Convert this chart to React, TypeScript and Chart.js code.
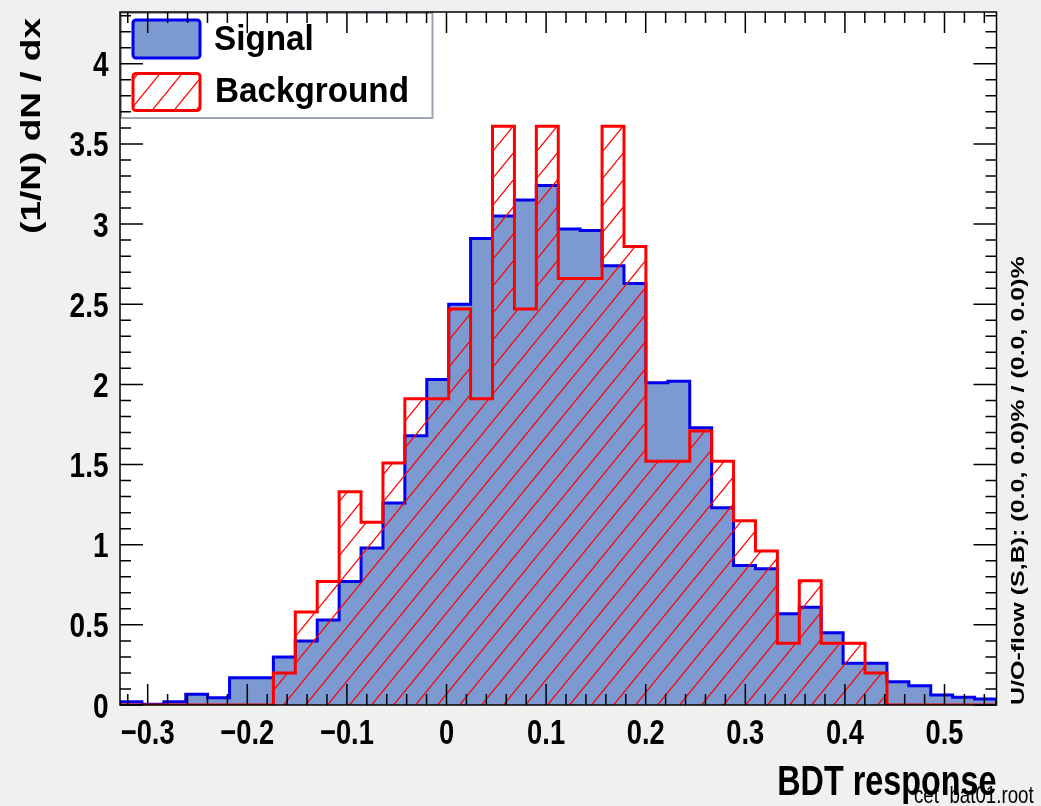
import React, { useEffect, useRef } from 'react';
import { Chart, registerables } from 'chart.js';

Chart.register(...registerables);

// ---- data ----
const X_MIN = -0.3278;
const X_MAX = 0.5522;
const Y_MAX = 4.323;
const X_TICK_STEP = 0.1;
const Y_TICK_STEP = 0.5;

const signalValues = [
  0.02, 0.005, 0.02, 0.067, 0.045, 0.17, 0.17, 0.30, 0.40, 0.53,
  0.77, 0.98, 1.26, 1.68, 2.03, 2.50, 2.91, 3.05, 3.15, 3.24,
  2.97, 2.96, 2.74, 2.63, 2.01, 2.02, 1.73, 1.23, 0.87, 0.85,
  0.57, 0.61, 0.45, 0.26, 0.26, 0.145, 0.12, 0.062, 0.048, 0.037,
];
const backgroundValues = [
  0, 0, 0, 0, 0, 0, 0, 0.20, 0.58, 0.77,
  1.33, 1.14, 1.51, 1.91, 1.91, 2.47, 1.91, 3.61, 2.47, 3.61,
  2.66, 2.66, 3.61, 2.86, 1.52, 1.52, 1.71, 1.52, 1.15, 0.96,
  0.385, 0.775, 0.385, 0.385, 0.20, 0, 0, 0, 0, 0,
];
const legendLabels = ['Signal', 'Background'];
const xTitle = 'BDT response';
const yTitle = '(1/N) dN / dx';
const flowText = 'U/O-flow (S,B): (0.0, 0.0)% / (0.0, 0.0)%';
const fileText = 'cet_bat01.root';

// ---- style ----
const SANS = "'Liberation Sans', Arial, Helvetica, sans-serif";
const SIG_FILL = '#7d99d1';
const SIG_LINE = '#0000ee';
const BKG_LINE = '#ff0000';
const SQUEEZE = 0.78;

function histPoints(values: number[]) {
  const n = values.length;
  const w = (X_MAX - X_MIN) / n;
  const pts: { x: number; y: number }[] = [{ x: X_MIN, y: 0 }];
  values.forEach((v, i) => {
    pts.push({ x: X_MIN + i * w, y: v });
    pts.push({ x: X_MIN + (i + 1) * w, y: v });
  });
  pts.push({ x: X_MAX, y: 0 });
  return pts;
}

function makeHatch(ctx: CanvasRenderingContext2D) {
  const w = 22, h = 27;
  const c = document.createElement('canvas');
  c.width = w; c.height = h;
  const g = c.getContext('2d')!;
  g.strokeStyle = BKG_LINE;
  g.lineWidth = 1.2;
  for (const dx of [-w, 0, w]) {
    g.beginPath();
    g.moveTo(dx - 0.2 * w, h + 0.2 * h);
    g.lineTo(dx + 1.2 * w, -0.2 * h);
    g.stroke();
  }
  return ctx.createPattern(c, 'repeat')!;
}

function fmt(value: any) {
  const v = Math.round(Number(value) * 10) / 10;
  if (Math.abs(v) < 1e-9) return '0';
  return String(v).replace('-', '\u2212');
}

function drawText(
  ctx: CanvasRenderingContext2D, text: string, x: number, y: number,
  font: string, align: CanvasTextAlign, baseline: CanvasTextBaseline,
  sx: number, rotate = false,
) {
  ctx.save();
  ctx.translate(x, y);
  ctx.scale(sx, 1);
  if (rotate) ctx.rotate(-Math.PI / 2);
  ctx.font = font;
  ctx.textAlign = align;
  ctx.textBaseline = baseline;
  ctx.fillStyle = '#000';
  ctx.fillText(text, 0, 0);
  ctx.restore();
}

export default function App() {
  const ref = useRef<HTMLCanvasElement | null>(null);
  useEffect(() => {
    const canvas = ref.current!;
    const ctx0 = canvas.getContext('2d')!;
    const hatch = makeHatch(ctx0);

    const rootPlugin = {
      id: 'rootStyle',
      beforeDraw(chart: any) {
        const { ctx, width, height, chartArea: a } = chart;
        ctx.save();
        ctx.fillStyle = '#f0f0f0';
        ctx.fillRect(0, 0, width, height);
        ctx.fillStyle = '#ffffff';
        ctx.fillRect(a.left, a.top, a.right - a.left, a.bottom - a.top);
        ctx.restore();
      },
      afterDatasetsDraw(chart: any) {
        const { ctx, chartArea: a, scales } = chart;
        ctx.save();
        // legend
        const lx = a.left, ly = a.top, lw = 312.5, lh = 106;
        ctx.fillStyle = '#fff';
        ctx.fillRect(lx, ly, lw, lh);
        ctx.strokeStyle = '#9ea6b4';
        ctx.lineWidth = 2;
        ctx.strokeRect(lx + 1, ly + 1, lw - 1, lh - 1);
        ctx.lineWidth = 3;
        ctx.beginPath();
        ctx.roundRect(133, 20, 67, 38, 3);
        ctx.fillStyle = SIG_FILL;
        ctx.fill();
        ctx.strokeStyle = SIG_LINE;
        ctx.stroke();
        ctx.beginPath();
        ctx.roundRect(133, 73.5, 67, 37, 3);
        ctx.fillStyle = '#fff';
        ctx.fill();
        ctx.fillStyle = hatch;
        ctx.fill();
        ctx.strokeStyle = BKG_LINE;
        ctx.stroke();
        ctx.restore();
        drawText(ctx, legendLabels[0], 214, 50, `bold 35px ${SANS}`, 'left', 'alphabetic', 0.95);
        drawText(ctx, legendLabels[1], 215, 102, `bold 35px ${SANS}`, 'left', 'alphabetic', 0.95);

        ctx.save();
        // frame
        ctx.strokeStyle = '#000';
        ctx.lineWidth = 1.5;
        ctx.strokeRect(a.left, a.top, a.right - a.left, a.bottom - a.top);
        // ticks
        const xs = scales.x, ys = scales.y;
        ctx.beginPath();
        const minor = X_TICK_STEP / 5;
        for (let k = Math.ceil(X_MIN / minor - 1e-6); k <= Math.floor(X_MAX / minor + 1e-6); k++) {
          const px = xs.getPixelForValue(k * minor);
          const len = k % 5 === 0 ? 21 : 11;
          ctx.moveTo(px, a.bottom); ctx.lineTo(px, a.bottom - len);
          ctx.moveTo(px, a.top); ctx.lineTo(px, a.top + len);
        }
        const yminor = Y_TICK_STEP / 5;
        for (let k = 0; k <= Math.floor(Y_MAX / yminor + 1e-6); k++) {
          const py = ys.getPixelForValue(k * yminor);
          const len = k % 5 === 0 ? 23 : 11;
          ctx.moveTo(a.left, py); ctx.lineTo(a.left + len, py);
          ctx.moveTo(a.right, py); ctx.lineTo(a.right - len, py);
        }
        ctx.stroke();
        ctx.restore();
      },
      afterDraw(chart: any) {
        const { ctx, chartArea: a, scales } = chart;
        const xs = scales.x, ys = scales.y;
        // tick labels from the library's scales
        xs.ticks.forEach((t: any) => {
          drawText(ctx, fmt(t.value), xs.getPixelForValue(t.value), a.bottom + 39,
            `bold 35px ${SANS}`, 'center', 'alphabetic', SQUEEZE);
        });
        ys.ticks.forEach((t: any) => {
          drawText(ctx, fmt(t.value), 108.5, ys.getPixelForValue(t.value) + 12.5,
            `bold 35px ${SANS}`, 'right', 'alphabetic', 0.8);
        });
        // file name, then axis titles
        drawText(ctx, fileText, 914, 803, `24px ${SANS}`, 'left', 'alphabetic', SQUEEZE);
        drawText(ctx, xTitle, a.right, 795, `bold 42px ${SANS}`, 'right', 'alphabetic', 0.77);
        drawText(ctx, yTitle, 32, 18, `bold 37px ${SANS}`, 'right', 'middle', 0.77, true);
        drawText(ctx, flowText, 1019, a.bottom, `bold 25px ${SANS}`, 'left', 'middle', 0.77, true);
      },
    };

    const chart = new Chart(canvas, {
      type: 'line',
      data: {
        datasets: [
          {
            label: legendLabels[0],
            data: histPoints(signalValues),
            borderColor: SIG_LINE,
            backgroundColor: SIG_FILL,
            borderWidth: 3,
            fill: 'origin',
            pointRadius: 0,
            tension: 0,
            borderJoinStyle: 'miter',
            order: 1,
          },
          {
            label: legendLabels[1],
            data: histPoints(backgroundValues),
            borderColor: BKG_LINE,
            backgroundColor: hatch,
            borderWidth: 3,
            fill: 'origin',
            pointRadius: 0,
            tension: 0,
            borderJoinStyle: 'miter',
            order: 0,
          },
        ],
      },
      options: {
        responsive: false,
        animation: false,
        devicePixelRatio: 1,
        layout: { padding: { top: 12, right: 44.5, left: 0, bottom: 0 } },
        plugins: { legend: { display: false }, tooltip: { enabled: false } },
        scales: {
          x: {
            type: 'linear',
            min: X_MIN,
            max: X_MAX,
            grid: { display: false, drawTicks: false },
            border: { display: false },
            ticks: { display: false, stepSize: X_TICK_STEP, includeBounds: false, autoSkip: false },
            title: { display: false, text: xTitle },
            afterFit: (s: any) => { s.height = 101; s.paddingLeft = 0; s.paddingRight = 0; },
          },
          y: {
            type: 'linear',
            min: 0,
            max: Y_MAX,
            grid: { display: false, drawTicks: false },
            border: { display: false },
            ticks: { display: false, stepSize: Y_TICK_STEP, includeBounds: false, autoSkip: false },
            title: { display: false, text: yTitle },
            afterFit: (s: any) => { s.width = 120; s.paddingTop = 0; s.paddingBottom = 0; },
          },
        },
      },
      plugins: [rootPlugin],
    } as any);
    return () => chart.destroy();
  }, []);

  return (
    <div style={{ position: 'fixed', left: 0, top: 0, width: 1041, height: 806, background: '#f0f0f0' }}>
      <canvas ref={ref} width={1041} height={806} style={{ display: 'block', width: 1041, height: 806 }} />
    </div>
  );
}
